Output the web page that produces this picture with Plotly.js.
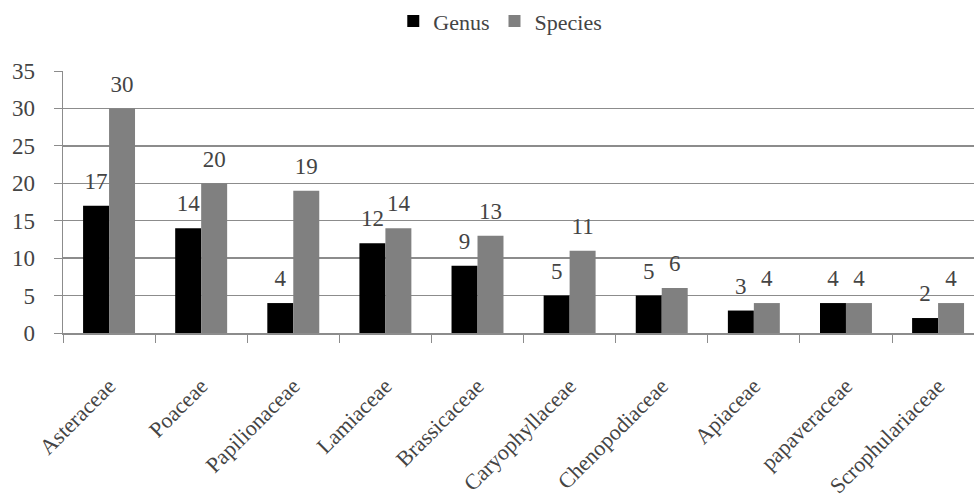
<!DOCTYPE html>
<html><head><meta charset="utf-8">
<script src="https://cdn.plot.ly/plotly-3.0.1.min.js"></script>
<style>
body{margin:0;background:#fff}#chart{width:974px;height:497px}
#dbg{position:absolute;left:0px;top:0px;width:300px;font:11px monospace;color:#fff;z-index:10;overflow:hidden;height:40px}
#warm{position:absolute;left:0px;top:0px;font:22px "Liberation Serif";color:#fff;z-index:9}
</style>
</head><body><div id="chart"></div><div id="warm">Genus</div><div id="dbg"></div>
<script>
var families = ["Asteraceae","Poaceae","Papilionaceae","Lamiaceae","Brassicaceae","Caryophyllaceae","Chenopodiaceae","Apiaceae","papaveraceae","Scrophulariaceae"];
var genus = [17,14,4,12,9,5,5,3,4,2];
var species = [30,20,19,14,13,11,6,4,4,4];
var yTicks = [0,5,10,15,20,25,30,35];

var font = "Liberation Serif";
var gap = 0.436;
var traces = [
  {type:"bar", name:"Genus", x:families, y:genus, marker:{color:"#000000"}},
  {type:"bar", name:"Species", x:families, y:species, marker:{color:"#808080"}},
  {type:"scatter", mode:"markers+text", x:families, y:genus, text:genus.map(String),
   textposition:"top center", marker:{size:16, opacity:0}, showlegend:false, cliponaxis:false,
   textfont:{family:font,size:23}},
  {type:"scatter", mode:"markers+text", x:families, y:species, text:species.map(String),
   textposition:"top center", marker:{size:16, opacity:0}, showlegend:false, cliponaxis:false,
   textfont:{family:font,size:23}}
];
var layout = {
  width:974, height:497,
  margin:{l:63, r:0, t:70, b:164},
  font:{family:font, size:22},
  barmode:"group", bargap:gap, bargroupgap:0,
  scattermode:"group", scattergap:gap,
  legend:{orientation:"h", x:0.48, xanchor:"center", y:1.19, yanchor:"middle"},
  xaxis:{type:"category", range:[-0.5, 9.39], tickangle:-45, tickfont:{family:font,size:22},
         showgrid:false, showline:true, linecolor:"#8c8c8c", linewidth:1.5,
         ticks:"outside", tickson:"boundaries", ticklen:8, tickcolor:"#8c8c8c", ticklabelstandoff:30},
  yaxis:{range:[0,35], tickvals:yTicks, tickfont:{family:font,size:23},
         showgrid:true, gridcolor:"#8c8c8c", gridwidth:1.5, zeroline:false,
         showline:true, linecolor:"#8c8c8c", linewidth:1.5,
         ticks:"outside", ticklen:8, tickcolor:"#8c8c8c", ticklabelstandoff:14}
};
var gd = document.getElementById("chart");
Plotly.newPlot(gd, traces, layout, {displayModeBar:false, staticPlot:true}).then(function(){
  var q = function(s){var e=document.querySelector(s); if(!e) return 'none'; var cs=getComputedStyle(e); return (e.getAttribute('style')||'').slice(0,60)+' / computed: '+cs.fontFamily+' '+cs.fontSize;};
  document.getElementById('dbg').textContent = 'Y: '+q('.ytick text')+' || L: '+q('.legendtext')+' || S: '+q('.textpoint text')+' || fonts: '+document.fonts.check('22px "Liberation Serif"');
  if (document.fonts && document.fonts.load) {
    document.fonts.load('22px "Liberation Serif"').then(function(){ Plotly.redraw(gd); });
  }
});
</script></body></html>
